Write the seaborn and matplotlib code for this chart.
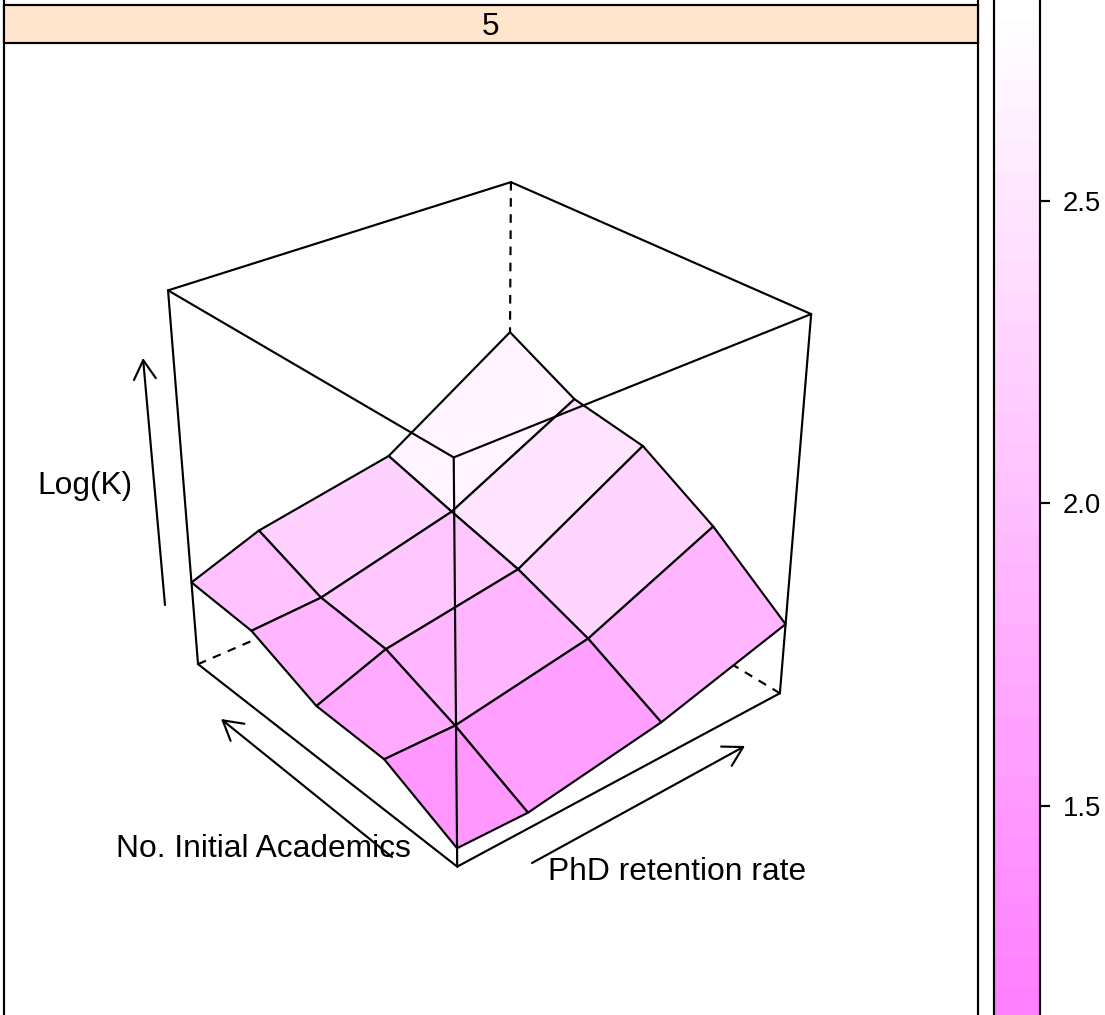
import numpy as np
import seaborn as sns
import matplotlib
matplotlib.use('Agg')
import matplotlib.pyplot as plt
from matplotlib.colors import BoundaryNorm, ListedColormap

# surface values
phd_retention = [0.5, 0.6, 0.8, 1.0]
initial_academics = [10, 20, 30, 40, 50]
log_k = [[1.35, 1.33, 1.52, 1.85],
         [1.66, 1.65, 1.86, 2.37],
         [1.68, 1.91, 2.10, 2.76],
         [1.94, 1.97, 2.26, 2.86],
         [1.98, 2.21, 2.43, 3.18]]
z_limits = (1.18, 4.57)

# colour key
key_levels = np.arange(1.15, 2.851, 0.05)
key_ticks = [1.5, 2.0, 2.5]
key_tick_labels = ['1.5', '2.0', '2.5']
panel_label = '5'

W, H = 1105, 1015
LW = 1.55
sns.set_theme(style='white', font='Liberation Sans')
plt.rcParams['axes.linewidth'] = LW
plt.rcParams['axes.edgecolor'] = 'black'


def px_axes(left, top, right, bottom, **kw):
    # axes placed by pixel box, y counted from the top of the image
    return fig.add_axes([left / W, 1 - bottom / H, (right - left) / W, (bottom - top) / H], **kw)


fig = plt.figure(figsize=(W / 100, H / 100), dpi=100, facecolor='white')

# panel frame runs off the image at top and bottom
frame = px_axes(3.5, -12, 978, 1040, zorder=0)
frame.set_xticks([])
frame.set_yticks([])

strip = px_axes(3.5, 4.5, 978, 43, zorder=1, facecolor='#FFE5CC')
strip.set_xticks([])
strip.set_yticks([])

# colour key, same story, cropped by the image edge
n_bands = len(key_levels) - 1
band_colors = sns.blend_palette(['#FF80FF', '#FFFFFF'], n_colors=n_bands)
cmap = ListedColormap(band_colors)
norm = BoundaryNorm(key_levels, n_bands)
band_mid = (key_levels[:-1] + key_levels[1:]) / 2

key_top = 201 - (key_levels[-1] - 2.5) * 605
key_bottom = 201 + (2.5 - key_levels[0]) * 605
cax = px_axes(994, key_top, 1040, key_bottom, zorder=1)
sns.heatmap(band_mid.reshape(-1, 1), ax=cax, cmap=cmap, norm=norm, cbar=False,
            xticklabels=False, yticklabels=False)
cax.set_ylim(0, n_bands)
for sp in cax.spines.values():
    sp.set_visible(True)
    sp.set_color('black')
    sp.set_linewidth(LW)
cax.yaxis.tick_right()
cax.set_yticks([(t - key_levels[0]) / 0.05 for t in key_ticks])
cax.set_yticklabels(key_tick_labels, fontsize=19.8, color='black')
cax.tick_params(axis='y', right=True, left=False, length=7.2, width=LW, pad=9.4, color='black')

# surface
X, Y = np.meshgrid(phd_retention, initial_academics)
Z = np.array(log_k)
x0, x1 = min(phd_retention), max(phd_retention)
y0, y1 = min(initial_academics), max(initial_academics)
z0, z1 = z_limits

ax = fig.add_axes([0.1, 0.1, 0.7, 0.7 * W / H], projection='3d', zorder=2)
ax.set_facecolor('none')
ax.set_axis_off()
ax.computed_zorder = False
ax.set_box_aspect((1, 1, 1), zoom=np.sqrt(3) / (1.8294640721620434 * 25 / 24))
ax.set_proj_type('persp', focal_length=0.5)
ax.view_init(elev=30, azim=-130)

facet_z = (Z[:-1, :-1] + Z[1:, :-1] + Z[:-1, 1:] + Z[1:, 1:]) / 4
facet_colors = cmap(norm(facet_z))

# hidden edges go under the surface
dash = (0, (4, 3.5))
for xs, ys, zs in [([x1, x1], [y1, y1], [z0, z1]),
                   ([x0, x1], [y1, y1], [z0, z0]),
                   ([x1, x1], [y0, y1], [z0, z0])]:
    ax.plot(xs, ys, zs, color='black', lw=LW, ls=dash, zorder=1)

ax.plot_surface(X, Y, Z, rstride=1, cstride=1, facecolors=facet_colors, shade=False,
                edgecolor='black', linewidth=LW, zorder=2)

for xs, ys, zs in [([x0, x1], [y0, y0], [z0, z0]),
                   ([x0, x0], [y0, y1], [z0, z0]),
                   ([x0, x0], [y0, y0], [z0, z1]),
                   ([x1, x1], [y0, y0], [z0, z1]),
                   ([x0, x0], [y1, y1], [z0, z1]),
                   ([x0, x1], [y0, y0], [z1, z1]),
                   ([x0, x0], [y0, y1], [z1, z1]),
                   ([x0, x1], [y1, y1], [z1, z1]),
                   ([x1, x1], [y0, y1], [z1, z1])]:
    ax.plot(xs, ys, zs, color='black', lw=LW, zorder=3)

ax.set_xlim(x0, x1)
ax.set_ylim(y0, y1)
ax.set_zlim(z0, z1)

# place the 3d axes so the projection scale and centre land where they should
scale, cx, cy = 4336.1, 486.0, 499.73
xl = ax.viewLim.intervalx
yl = ax.viewLim.intervaly
ax.set_position([(cx + scale * xl[0]) / W, (H - cy + scale * yl[0]) / H,
                 scale * (xl[1] - xl[0]) / W, scale * (yl[1] - yl[0]) / H])

# labels and arrows, image pixel coordinates
ov = fig.add_axes([0, 0, 1, 1], zorder=3)
ov.set_xlim(0, W)
ov.set_ylim(H, 0)
ov.axis('off')
ov.patch.set_alpha(0)

arrow = dict(arrowstyle='->,head_length=13.7,head_width=7.9', color='black', lw=LW,
             shrinkA=0, shrinkB=0, mutation_scale=1)
ov.annotate('', xy=(221, 719), xytext=(392, 857), arrowprops=arrow)
ov.annotate('', xy=(745, 746), xytext=(532, 863), arrowprops=arrow)
ov.annotate('', xy=(143, 358), xytext=(165, 605), arrowprops=arrow)

ov.text(490.5, 35, panel_label, fontsize=22.7, color='black', ha='center', va='baseline')
ov.text(116, 857, 'No. Initial Academics', fontsize=22.85, color='black', va='baseline')
ov.text(548, 880, 'PhD retention rate', fontsize=22.85, color='black', va='baseline')
ov.text(37, 494, 'Log(K)', fontsize=22.85, color='black', va='baseline')

fig.savefig('out.png', dpi=100)
